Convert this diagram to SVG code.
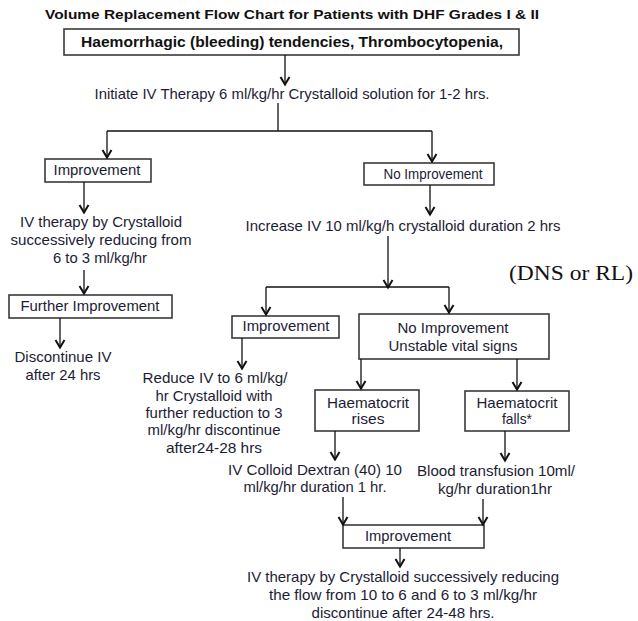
<svg xmlns="http://www.w3.org/2000/svg" width="638" height="621" viewBox="0 0 638 621">
<defs>
<marker id="arr" markerWidth="11" markerHeight="12" refX="9.5" refY="6" orient="auto" markerUnits="userSpaceOnUse" viewBox="0 0 11 12">
<polyline points="1.5,1.5 9,6 1.5,10.5" fill="none" stroke="#111" stroke-width="2"/>
</marker>
<style>
.box{fill:#fff;stroke:#3a3a3a;stroke-width:1.6}
.t{font-family:"Liberation Sans",Arial,sans-serif;font-size:14.5px;fill:#1c1c34;text-anchor:middle}
.b{font-family:"Liberation Sans",Arial,sans-serif;font-weight:bold;fill:#111;text-anchor:middle}
.ln{fill:none;stroke:#111;stroke-width:1.3}
.a{fill:none;stroke:#111;stroke-width:1.3;marker-end:url(#arr)}
</style>
</defs>
<rect width="638" height="621" fill="#fff"/>
<g id="title"><text class="b" x="292" y="19" font-size="13" textLength="494" lengthAdjust="spacingAndGlyphs">Volume Replacement Flow Chart for Patients with DHF Grades I &amp; II</text></g>
<g id="start"><rect class="box" x="64" y="29" width="455" height="26"/><text class="b" x="292" y="47" font-size="14" textLength="422" lengthAdjust="spacingAndGlyphs">Haemorrhagic (bleeding) tendencies, Thrombocytopenia,</text></g>
<g id="initiate"><text class="t" x="292" y="99" font-size="13" textLength="395" lengthAdjust="spacingAndGlyphs">Initiate IV Therapy 6 ml/kg/hr Crystalloid solution for 1-2 hrs.</text></g>
<g id="imp1"><rect class="box" x="45" y="159" width="106" height="23"/><text class="t" x="97" y="175" textLength="87" lengthAdjust="spacingAndGlyphs">Improvement</text></g>
<g id="ivt1"><text class="t" x="101" y="227" textLength="162" lengthAdjust="spacingAndGlyphs">IV therapy by Crystalloid</text><text class="t" x="101" y="245" textLength="181" lengthAdjust="spacingAndGlyphs">successively reducing from</text><text class="t" x="100" y="263" textLength="94" lengthAdjust="spacingAndGlyphs">6 to 3 ml/kg/hr</text></g>
<g id="further"><rect class="box" x="9" y="295" width="163" height="23"/><text class="t" x="90" y="311" textLength="139" lengthAdjust="spacingAndGlyphs">Further Improvement</text></g>
<g id="discont"><text class="t" x="63" y="362" textLength="97" lengthAdjust="spacingAndGlyphs">Discontinue IV</text><text class="t" x="63" y="380" textLength="75" lengthAdjust="spacingAndGlyphs">after 24 hrs</text></g>
<g id="noimp1"><rect class="box" x="364" y="163" width="130" height="22"/><text class="t" x="433" y="179" textLength="99" lengthAdjust="spacingAndGlyphs">No Improvement</text></g>
<g id="increase"><text class="t" x="403" y="231" textLength="315" lengthAdjust="spacingAndGlyphs">Increase IV 10 ml/kg/h crystalloid duration 2 hrs</text></g>
<g id="dns"><text x="509" y="280" font-family="'Liberation Serif','Times New Roman',serif" font-size="22" fill="#111" textLength="124" lengthAdjust="spacingAndGlyphs">(DNS or RL)</text></g>
<g id="imp2"><rect class="box" x="232" y="316" width="107" height="22"/><text class="t" x="286" y="331" textLength="87" lengthAdjust="spacingAndGlyphs">Improvement</text></g>
<g id="reduce"><text class="t" x="215" y="383" textLength="145" lengthAdjust="spacingAndGlyphs">Reduce IV to 6 ml/kg/</text><text class="t" x="214" y="401" textLength="117" lengthAdjust="spacingAndGlyphs">hr Crystalloid with</text><text class="t" x="214" y="418" textLength="137" lengthAdjust="spacingAndGlyphs">further reduction to 3</text><text class="t" x="214" y="435" textLength="133" lengthAdjust="spacingAndGlyphs">ml/kg/hr discontinue</text><text class="t" x="214" y="453" textLength="96" lengthAdjust="spacingAndGlyphs">after24-28 hrs</text></g>
<g id="noimp2"><rect class="box" x="359" y="314" width="190" height="45"/><text class="t" x="453" y="333" textLength="111" lengthAdjust="spacingAndGlyphs">No Improvement</text><text class="t" x="453" y="351" textLength="129" lengthAdjust="spacingAndGlyphs">Unstable vital signs</text></g>
<g id="hrise"><rect class="box" x="315" y="390" width="104" height="41"/><text class="t" x="368" y="408" textLength="82" lengthAdjust="spacingAndGlyphs">Haematocrit</text><text class="t" x="368" y="424" textLength="33" lengthAdjust="spacingAndGlyphs">rises</text></g>
<g id="hfall"><rect class="box" x="465" y="391" width="104" height="40"/><text class="t" x="517" y="408" textLength="81" lengthAdjust="spacingAndGlyphs">Haematocrit</text><text class="t" x="517" y="424" textLength="30" lengthAdjust="spacingAndGlyphs">falls*</text></g>
<g id="colloid"><text class="t" x="315" y="475" textLength="174" lengthAdjust="spacingAndGlyphs">IV Colloid Dextran (40) 10</text><text class="t" x="315" y="492" textLength="143" lengthAdjust="spacingAndGlyphs">ml/kg/hr duration 1 hr.</text></g>
<g id="blood"><text class="t" x="496" y="476" textLength="158" lengthAdjust="spacingAndGlyphs">Blood transfusion 10ml/</text><text class="t" x="495" y="494" textLength="114" lengthAdjust="spacingAndGlyphs">kg/hr duration1hr</text></g>
<g id="imp3"><rect class="box" x="343" y="525" width="141" height="23"/><text class="t" x="408" y="541" textLength="86" lengthAdjust="spacingAndGlyphs">Improvement</text></g>
<g id="final"><text class="t" x="403" y="582" textLength="312" lengthAdjust="spacingAndGlyphs">IV therapy by Crystalloid successively reducing</text><text class="t" x="403" y="600" textLength="268" lengthAdjust="spacingAndGlyphs">the flow from 10 to 6 and  6 to 3 ml/kg/hr</text><text class="t" x="403" y="618" textLength="183" lengthAdjust="spacingAndGlyphs">discontinue after 24-48 hrs.</text></g>
<g id="connectors">
<path class="a" d="M285,55 V85"/>
<path class="ln" d="M278,103 V131"/>
<path class="ln" d="M107,131 H432"/>
<path class="a" d="M107,131 V158"/>
<path class="a" d="M432,131 V162"/>
<path class="a" d="M84,182 V213"/>
<path class="a" d="M84,270 V294"/>
<path class="a" d="M60,318 V348"/>
<path class="a" d="M430,185 V215"/>
<path class="a" d="M388,236 V288"/>
<path class="ln" d="M266,287 H449"/>
<path class="a" d="M266,287 V315"/>
<path class="a" d="M449,287 V313"/>
<path class="a" d="M242,338 V369"/>
<path class="a" d="M361,359 V389"/>
<path class="a" d="M517,359 V390"/>
<path class="a" d="M335,431 V460"/>
<path class="a" d="M505,431 V461"/>
<path class="a" d="M343,497 V525"/>
<path class="a" d="M483,499 V525"/>
<path class="a" d="M400,548 V567"/>
</g>
</svg>
